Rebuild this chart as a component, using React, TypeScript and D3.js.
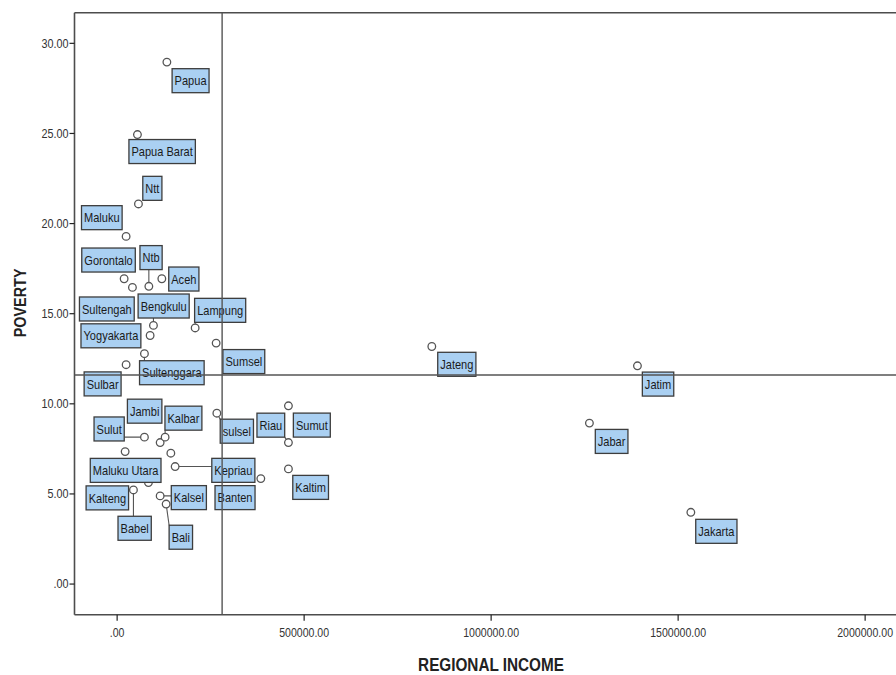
import React from "react";
import * as d3 from "d3";

// ---- data ----
const provinces = [
  "Papua", "Papua Barat", "Ntt", "Maluku", "Gorontalo", "Sultengah", "Ntb", "Aceh",
  "Bengkulu", "Yogyakarta", "Lampung", "Sumsel", "Sultenggara", "Sulbar", "Jateng", "Jatim",
  "sulsel", "Sumut", "Riau", "Kaltim", "Kepriau", "Banten", "Kalsel", "Bali",
  "Babel", "Kalteng", "Maluku Utara", "Sulut", "Jambi", "Kalbar", "", "Jabar", "Jakarta",
];
const regionalIncome = [
  133000, 54300, 57000, 24000, 18700, 40900, 84800, 119500,
  97100, 88200, 208600, 264700, 73000, 24000, 841400, 1391200,
  266600, 458000, 458000, 458000, 155100, 384200, 115000, 131000,
  43600, 83700, 21400, 73000, 115000, 128300, 143600, 1262800, 1534000,
];
const poverty = [
  28.96, 24.94, 21.09, 19.29, 16.94, 16.46, 16.52, 16.94,
  14.35, 13.79, 14.21, 13.37, 12.78, 12.17, 13.18, 12.11,
  9.48, 9.89, 7.85, 6.39, 6.52, 5.85, 4.89, 4.44,
  5.22, 5.63, 7.35, 8.15, 7.85, 8.15, 7.26, 8.93, 3.98,
];
const xTicks = [0, 500000, 1000000, 1500000, 2000000];
const yTicks = [0, 5, 10, 15, 20, 25, 30];
const refIncome = 280700;
const refPoverty = 11.6;

// label layout: box centre offset from the point (px) and whether a leader line is drawn
const labelLayout: Record<string, [number, number, boolean]> = {
  "Papua": [23.7, 18.6, false],
  "Papua Barat": [24.7, 17, false],
  "Ntt": [13.9, -15.6, false],
  "Maluku": [-24.3, -18.7, false],
  "Gorontalo": [-15.6, -18.7, false],
  "Sultengah": [-25.6, 21.6, false],
  "Ntb": [2.2, -28.7, true],
  "Aceh": [22, 0.3, false],
  "Bengkulu": [10.2, -19.4, true],
  "Yogyakarta": [-39.2, 0.3, false],
  "Lampung": [25, -17.6, true],
  "Sumsel": [27.7, 18.5, false],
  "Sultenggara": [27.4, 19, true],
  "Sulbar": [-23.5, 19.2, false],
  "Jateng": [25, 17.8, false],
  "Jatim": [20.6, 18.3, false],
  "sulsel": [20, 18, true],
  "Sumut": [23.4, 19.3, false],
  "Riau": [-17.6, -17.4, true],
  "Kaltim": [22.2, 18.5, false],
  "Kepriau": [58.2, 3.8, true],
  "Banten": [-25.8, 19, false],
  "Kalsel": [28.7, 1.7, true],
  "Bali": [14.7, 33.2, true],
  "Babel": [1.2, 38.3, true],
  "Kalteng": [-41.1, 15.3, false],
  "Maluku Utara": [0.5, 18.8, false],
  "Sulut": [-35.3, -8.2, true],
  "Jambi": [-15.5, -31.4, false],
  "Kalbar": [18.3, -19, true],
  "Jabar": [22.2, 18.3, false],
  "Jakarta": [25.5, 19, false],
};

const W = 896;
const H = 675;
const plotLeft = 74.5;
const plotTop = 12.7;
const plotBottom = 614.7;
const plotRight = 903;

const baseFont = "'Liberation Sans', Arial, sans-serif";
const narrow = 0.85;

let canvasCtx: CanvasRenderingContext2D | null = null;
function measure(text: string, font: string): number {
  if (!canvasCtx) {
    const c = document.createElement("canvas");
    canvasCtx = c.getContext("2d");
  }
  if (!canvasCtx) return text.length * 6;
  canvasCtx.font = font;
  return canvasCtx.measureText(text).width;
}

export default function App() {
  const x = d3.scaleLinear().domain([-114000, 2100000]).range([plotLeft, plotLeft + 2214000 * 0.000374]);
  const y = d3.scaleLinear().domain([-1.7, 31.7]).range([plotBottom, plotTop]);
  const fmt = (v: number) => (v === 0 ? ".00" : d3.format(".2f")(v));

  const points = provinces.map((name, i) => ({
    name,
    px: x(regionalIncome[i]),
    py: y(poverty[i]),
  }));

  const r = 3.8;
  const boxH = 24;
  const labelFontSize = 13;

  const labels = points
    .filter((p) => p.name && labelLayout[p.name])
    .map((p) => {
      const [cx, cy, leader] = labelLayout[p.name];
      const w = measure(p.name, `${labelFontSize}px ${baseFont}`) * narrow + 5;
      const bx = p.px + cx - w / 2;
      const by = p.py + cy - boxH / 2;
      const qx = Math.max(bx, Math.min(p.px, bx + w));
      const qy = Math.max(by, Math.min(p.py, by + boxH));
      const dx = qx - p.px;
      const dy = qy - p.py;
      const d = Math.sqrt(dx * dx + dy * dy);
      const line = leader && d > r + 1 ? { x1: p.px + (dx / d) * r, y1: p.py + (dy / d) * r, x2: qx, y2: qy } : null;
      return { ...p, bx, by, w, line };
    });

  const axisColor = "#4d4d4d";

  return (
    <svg width={W} height={H} style={{ display: "block", position: "absolute", left: 0, top: 0, background: "#fff" }}>
      <defs>
        <clipPath id="plotclip">
          <rect x={plotLeft} y={plotTop} width={plotRight - plotLeft} height={plotBottom - plotTop} />
        </clipPath>
      </defs>
      {/* frame */}
      <line x1={plotLeft} x2={W} y1={plotTop} y2={plotTop} stroke={axisColor} strokeWidth={1.6} />
      <line x1={plotLeft} x2={W} y1={plotBottom} y2={plotBottom} stroke={axisColor} strokeWidth={1.6} />
      <line x1={plotLeft} x2={plotLeft} y1={plotTop} y2={plotBottom} stroke={axisColor} strokeWidth={1.6} />

      {/* y ticks */}
      {yTicks.map((t) => (
        <g key={"y" + t}>
          <line x1={plotLeft - 5} x2={plotLeft} y1={y(t)} y2={y(t)} stroke="#222" strokeWidth={1.2} />
          <text
            transform={`translate(${plotLeft - 6},${y(t)}) scale(0.9,1)`}
            dy="0.35em"
            textAnchor="end"
            fontFamily={baseFont}
            fontSize={12}
            fill="#333"
          >
            {fmt(t)}
          </text>
        </g>
      ))}
      {/* x ticks */}
      {xTicks.map((t) => (
        <g key={"x" + t}>
          <line x1={x(t)} x2={x(t)} y1={plotBottom} y2={plotBottom + 6} stroke="#222" strokeWidth={1.2} />
          <text
            transform={`translate(${x(t)},${plotBottom + 22}) scale(0.88,1)`}
            textAnchor="middle"
            fontFamily={baseFont}
            fontSize={12}
            fill="#333"
          >
            {fmt(t)}
          </text>
        </g>
      ))}

      {/* axis titles */}
      <text
        transform={`translate(26,${y(15.6)}) rotate(-90) scale(0.9,1)`}
        textAnchor="middle"
        fontFamily={baseFont}
        fontWeight="bold"
        fontSize={16}
        fill="#222"
      >
        POVERTY
      </text>
      <text
        transform={`translate(491,671) scale(0.85,1)`}
        textAnchor="middle"
        fontFamily={baseFont}
        fontWeight="bold"
        fontSize={18}
        fill="#222"
      >
        REGIONAL INCOME
      </text>

      <g clipPath="url(#plotclip)">
        {/* markers */}
        {points.map((p, i) => (
          <circle key={"c" + i} cx={p.px} cy={p.py} r={r} fill="#fff" stroke="#555" strokeWidth={1.3} />
        ))}
        {/* leader lines */}
        {labels.map((l) =>
          l.line ? (
            <line key={"l" + l.name} x1={l.line.x1} y1={l.line.y1} x2={l.line.x2} y2={l.line.y2} stroke="#555" strokeWidth={1.1} />
          ) : null
        )}
        {/* labels */}
        {labels.map((l) => (
          <g key={"b" + l.name}>
            <rect x={l.bx} y={l.by} width={l.w} height={boxH} fill="#aad0f2" stroke="#3d3d3d" strokeWidth={1.3} />
            <text
              transform={`translate(${l.bx + l.w / 2},${l.by + boxH / 2}) scale(${narrow},1)`}
              dy="0.36em"
              textAnchor="middle"
              fontFamily={baseFont}
              fontSize={labelFontSize}
              fill="#1a1a1a"
            >
              {l.name}
            </text>
          </g>
        ))}
        {/* reference lines */}
        <line x1={x(refIncome)} x2={x(refIncome)} y1={plotTop} y2={plotBottom} stroke="#555" strokeWidth={1.4} />
        <line x1={plotLeft} x2={plotRight} y1={y(refPoverty)} y2={y(refPoverty)} stroke="#555" strokeWidth={1.4} />
      </g>
    </svg>
  );
}
